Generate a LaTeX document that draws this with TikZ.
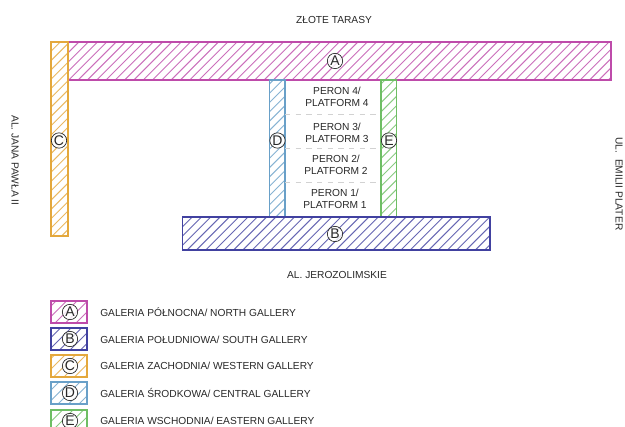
\documentclass[tikz,border=0pt]{standalone}
\usepackage{fontspec}
\setmainfont{Liberation Sans}
\definecolor{colA}{RGB}{190,75,170}
\definecolor{colB}{RGB}{65,65,160}
\definecolor{colC}{RGB}{228,168,60}
\definecolor{colD}{RGB}{105,160,200}
\definecolor{colE}{RGB}{110,190,100}
\definecolor{txt}{RGB}{40,40,40}
\newcommand{\hatchbox}[7]{% name, color, x1, y1, x2, y2, spacing
  \begin{scope}
    \clip (#3,#4) rectangle (#5,#6);
    \pgfmathsetmacro{\hstart}{int((#3+#4-40)/#7)*#7}
    \pgfmathsetmacro{\hnext}{\hstart+#7}
    \pgfmathsetmacro{\hend}{#5+#6+10}
    \foreach \s in {\hstart,\hnext,...,\hend}{
      \draw[hatchline,draw=#2] (\s-#4,#4) -- (\s-#6,#6);
    }
  \end{scope}
  \node[galbox,draw=#2,minimum width={(#5-#3)*0.75pt},minimum height={(#6-#4)*0.75pt}] (#1) at ({(#3+#5)/2},{(#4+#6)/2}) {};
}
\tikzset{
  hatchline/.style={line width=0.7pt,opacity=0.8},
  galbox/.style={line width=1.05pt,inner sep=0pt,outer sep=0pt},
  letter/.style={circle,draw=txt,line width=0.5pt,fill=white,fill opacity=0.8,text opacity=1,text=txt,inner sep=0pt,minimum size=11.5pt,font=\fontsize{10.5}{10.5}\selectfont},
  lab/.style={text=txt,font=\fontsize{7.65}{9}\selectfont,align=center,inner sep=0pt},
  leg/.style={text=txt,font=\fontsize{7.65}{9}\selectfont,anchor=west,inner sep=0pt},
  plat/.style={draw=gray!35,line width=0.4pt,dash pattern=on 4pt off 4pt}
}
\begin{document}
\begin{tikzpicture}[x=0.75pt,y=-0.75pt]
\useasboundingbox (0,0) rectangle (625,427);
\fill[white] (0,0) rectangle (625,427);
\hatchbox{ga}{colA}{68}{42}{611}{80}{9.3}
\hatchbox{gc}{colC}{51}{42}{68}{236}{9.3}
\hatchbox{gd}{colD}{269.5}{80}{285}{217}{9.3}
\hatchbox{ge}{colE}{381}{80}{396.5}{217}{9.3}
\hatchbox{gb}{colB}{182.5}{217}{490}{250}{9.3}
\coordinate (p1a) at (285,114.5); \coordinate (p1b) at (381,114.5);
\coordinate (p2a) at (285,148.5); \coordinate (p2b) at (381,148.5);
\coordinate (p3a) at (285,182.5); \coordinate (p3b) at (381,182.5);
\draw[plat] (p1a) -- (p1b);
\draw[plat] (p2a) -- (p2b);
\draw[plat] (p3a) -- (p3b);
\node[letter] (la) at (335,61) {A};
\node[letter] (lb) at (335,234) {B};
\node[letter] (lc) at (59,140.5) {C};
\node[letter] (ld) at (277.5,140.5) {D};
\node[letter] (le) at (389,140.5) {E};
\node[lab] (t1) at (337,97) {PERON 4/\\PLATFORM 4};
\node[lab] (t2) at (337,133) {PERON 3/\\PLATFORM 3};
\node[lab] (t3) at (336,165) {PERON 2/\\PLATFORM 2};
\node[lab] (t4) at (335,199) {PERON 1/\\PLATFORM 1};
\node[lab] (north) at (334,19.5) {ZŁOTE TARASY};
\node[lab] (south) at (337,274.5) {AL. JEROZOLIMSKIE};
\node[lab,rotate=-90] (west) at (15,160.5) {AL. JANA PAWŁA II};
\node[lab,rotate=-90] (east) at (619,184) {UL.\ \ EMILII PLATER};
\hatchbox{ka}{colA}{51}{301}{87}{323}{10.5}
\hatchbox{kb}{colB}{51}{328}{87}{350}{10.5}
\hatchbox{kc}{colC}{51}{355}{87}{377}{10.5}
\hatchbox{kd}{colD}{51}{382}{87}{404}{10.5}
\hatchbox{ke}{colE}{51}{410}{87}{432}{10.5}
\node[letter] (lka) at (70,312) {A};
\node[letter] (lkb) at (70,339) {B};
\node[letter] (lkc) at (70,366) {C};
\node[letter] (lkd) at (70,393) {D};
\node[letter] (lke) at (70,421) {E};
\node[leg] (ta) at (100,312) {GALERIA PÓŁNOCNA/ NORTH GALLERY};
\node[leg] (tb) at (100,339.5) {GALERIA POŁUDNIOWA/ SOUTH GALLERY};
\node[leg] (tc) at (100,366) {GALERIA ZACHODNIA/ WESTERN GALLERY};
\node[leg] (td) at (100,393) {GALERIA ŚRODKOWA/ CENTRAL GALLERY};
\node[leg] (te) at (100,420.5) {GALERIA WSCHODNIA/ EASTERN GALLERY};
\end{tikzpicture}
\end{document}
